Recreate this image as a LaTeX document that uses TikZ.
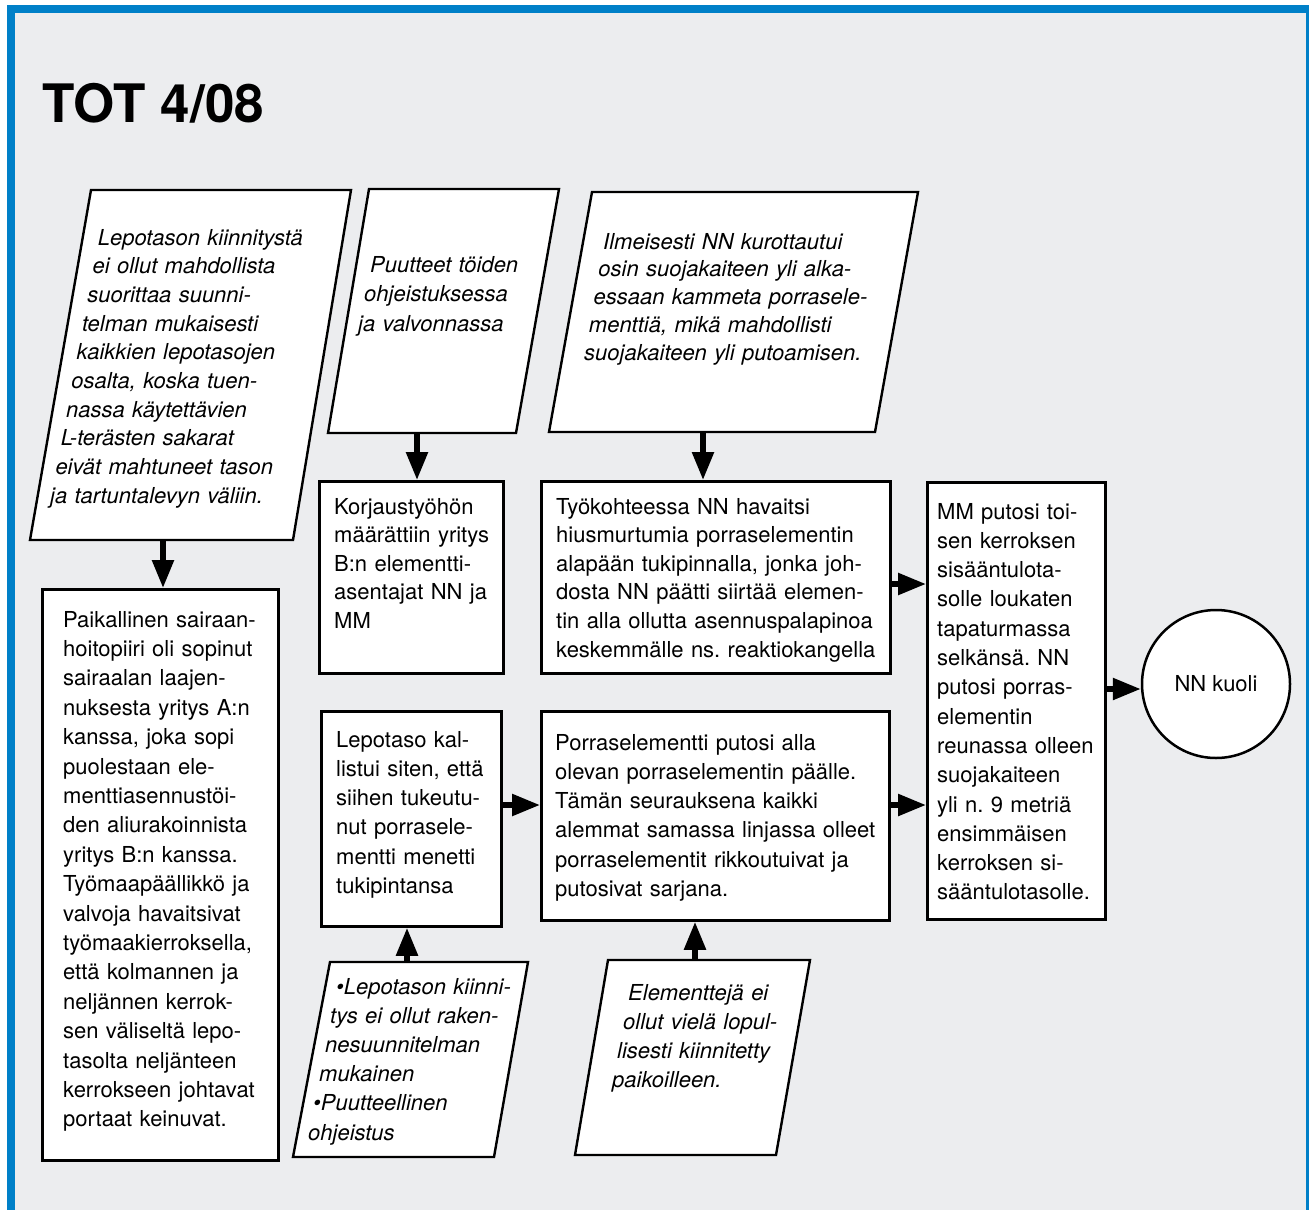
\documentclass[tikz,border=0pt]{standalone}
\usepackage{fontspec}
\setmainfont{TeX Gyre Heros}
\usetikzlibrary{arrows.meta}
\definecolor{frameblue}{RGB}{0,128,200}
\definecolor{bggray}{RGB}{236,237,239}
\frenchspacing
\begin{document}
\begin{tikzpicture}[x=1pt,y=-1pt,
  box/.style={draw=black, line width=2.8pt, fill=white, rectangle, inner sep=0pt, anchor=north west},
  para/.style={draw=black, line width=2.4pt, fill=white, line join=miter},
  txt/.style={anchor=base west, inner sep=0pt, text width=420pt, align=left},
  arr/.style={line width=5.5pt, -{Triangle[width=21pt,length=28pt]}},
]
\useasboundingbox (0,0) rectangle (1309,1210);
\fill[white] (0,0) rectangle (1309,1210);
\fill[frameblue] (7,5) rectangle (1309,1210);
\fill[bggray] (15,13) rectangle (1306,1210);

% title
\node[anchor=base west, inner sep=0pt, font=\fontsize{53}{60}\selectfont\bfseries] (title) at (42,122) {TOT 4/08};

% parallelograms
\draw[para] (91,190) -- (351,190) -- (293,540) -- (30,540) -- cycle;
\coordinate (p1s) at (163,540);
\node[txt, font=\fontsize{22}{28.7}\selectfont\itshape] (t1) at (50,245) {%
\hspace*{47.7pt}Lepotason kiinnitystä\\
\hspace*{42.4pt}ei ollut mahdollista\\
\hspace*{37.1pt}suorittaa suunni-\\
\hspace*{31.8pt}telman mukaisesti\\
\hspace*{26.5pt}kaikkien lepotasojen\\
\hspace*{21.2pt}osalta, koska tuen-\\
\hspace*{15.9pt}nassa käytettävien\\
\hspace*{10.6pt}L-terästen sakarat\\
\hspace*{5.3pt}eivät mahtuneet tason\\
ja tartuntalevyn väliin.};

\draw[para] (369,189) -- (559,189) -- (516,433) -- (328,433) -- cycle;
\coordinate (p2s) at (417,433);
\node[txt, font=\fontsize{22}{29.5}\selectfont\itshape] (t2) at (358,272) {%
\hspace*{12pt}Puutteet töiden\\
\hspace*{6pt}ohjeistuksessa\\
ja valvonnassa};

\draw[para] (592,192) -- (918,192) -- (875,432) -- (549,432) -- cycle;
\coordinate (p3s) at (703,432);
\node[txt, font=\fontsize{22}{27.8}\selectfont\itshape] (t3) at (584,249) {%
\hspace*{19pt}Ilmeisesti NN kurottautui\\
\hspace*{14.25pt}osin suojakaiteen yli alka-\\
\hspace*{9.5pt}essaan kammeta porrasele-\\
\hspace*{4.75pt}menttiä, mikä mahdollisti\\
suojakaiteen yli putoamisen.};

\draw[para] (330,962) -- (528,962) -- (494,1157) -- (293,1157) -- cycle;
\coordinate (p4s) at (407,962);
\node[txt, font=\fontsize{22}{29.2}\selectfont\itshape] (t4) at (308,994) {%
\hspace*{28pt}•Lepotason kiinni-\\
\hspace*{22pt}tys ei ollut raken-\\
\hspace*{17pt}nesuunnitelman\\
\hspace*{11pt}mukainen\\
\hspace*{5pt}•Puutteellinen\\
ohjeistus};

\draw[para] (608,960) -- (810,960) -- (776,1155) -- (575,1155) -- cycle;
\coordinate (p5s) at (695,960);
\node[txt, font=\fontsize{22}{29}\selectfont\itshape] (t5) at (612,1000) {%
\hspace*{16pt}Elementtejä ei\\
\hspace*{11pt}ollut vielä lopul-\\
\hspace*{5pt}lisesti kiinnitetty\\
paikoilleen.};

% boxes
\node[box, minimum width=236pt, minimum height=571pt] (paik) at (41,588) {};
\node[txt, font=\fontsize{22}{29.4}\selectfont] (tpaik) at (63,627) {%
Paikallinen sairaan-\\
hoitopiiri oli sopinut\\
sairaalan laajen-\\
nuksesta yritys A:n\\
kanssa, joka sopi\\
puolestaan ele-\\
menttiasennustöi-\\
den aliurakoinnista\\
yritys B:n kanssa.\\
Työmaapäällikkö ja\\
valvoja havaitsivat\\
työmaakierroksella,\\
että kolmannen ja\\
neljännen kerrok-\\
sen väliseltä lepo-\\
tasolta neljänteen\\
kerrokseen johtavat\\
portaat keinuvat.};

\node[box, minimum width=184pt, minimum height=192pt] (korj) at (318,480) {};
\node[txt, font=\fontsize{22}{28.6}\selectfont] (tkorj) at (334,514) {%
Korjaustyöhön\\
määrättiin yritys\\
B:n elementti-\\
asentajat NN ja\\
MM};

\node[box, minimum width=349pt, minimum height=192pt] (tyo) at (540,480) {};
\node[txt, font=\fontsize{22}{28.6}\selectfont] (ttyo) at (556,514) {%
Työkohteessa NN havaitsi\\
hiusmurtumia porraselementin\\
alapään tukipinnalla, jonka joh-\\
dosta NN päätti siirtää elemen-\\
tin alla ollutta asennuspalapinoa\\
keskemmälle ns. reaktiokangella};

\node[box, minimum width=180pt, minimum height=215pt] (lep) at (320,710) {};
\node[txt, font=\fontsize{22}{29.3}\selectfont] (tlep) at (336,747) {%
Lepotaso kal-\\
listui siten, että\\
siihen tukeutu-\\
nut porrasele-\\
mentti menetti\\
tukipintansa};

\node[box, minimum width=348pt, minimum height=209pt] (por) at (540,710) {};
\node[txt, font=\fontsize{22}{29.3}\selectfont] (tpor) at (555,750) {%
Porraselementti putosi alla\\
olevan porraselementin päälle.\\
Tämän seurauksena kaikki\\
alemmat samassa linjassa olleet\\
porraselementit rikkoutuivat ja\\
putosivat sarjana.};

\node[box, minimum width=178pt, minimum height=437pt] (mm) at (926,481) {};
\node[txt, font=\fontsize{22}{29.3}\selectfont] (tmm) at (937,519) {%
MM putosi toi-\\
sen kerroksen\\
sisääntulota-\\
solle loukaten\\
tapaturmassa\\
selkänsä. NN\\
putosi porras-\\
elementin\\
reunassa olleen\\
suojakaiteen\\
yli n. 9 metriä\\
ensimmäisen\\
kerroksen si-\\
sääntulotasolle.};

\node[draw=black, circle, line width=2.5pt, fill=white, minimum size=148pt, inner sep=0pt,
  font=\fontsize{22}{26}\selectfont] (nn) at (1216,684) {NN kuoli};

% connectors
\coordinate (r1) at (0,584);
\coordinate (r2) at (0,805);
\coordinate (r3) at (0,689);
\draw[arr] (p1s) -- (p1s |- paik.north);
\draw[arr] (p2s) -- (p2s |- korj.north);
\draw[arr] (p3s) -- (p3s |- tyo.north);
\draw[arr] (tyo.east |- r1) -- (mm.west |- r1);
\draw[arr] (lep.east |- r2) -- (por.west |- r2);
\draw[arr] (por.east |- r2) -- (mm.west |- r2);
\draw[arr] (mm.east |- r3) -- (nn.west |- r3);
\draw[arr] (p4s) -- (p4s |- lep.south);
\draw[arr] (p5s) -- (p5s |- por.south);
\end{tikzpicture}
\end{document}
